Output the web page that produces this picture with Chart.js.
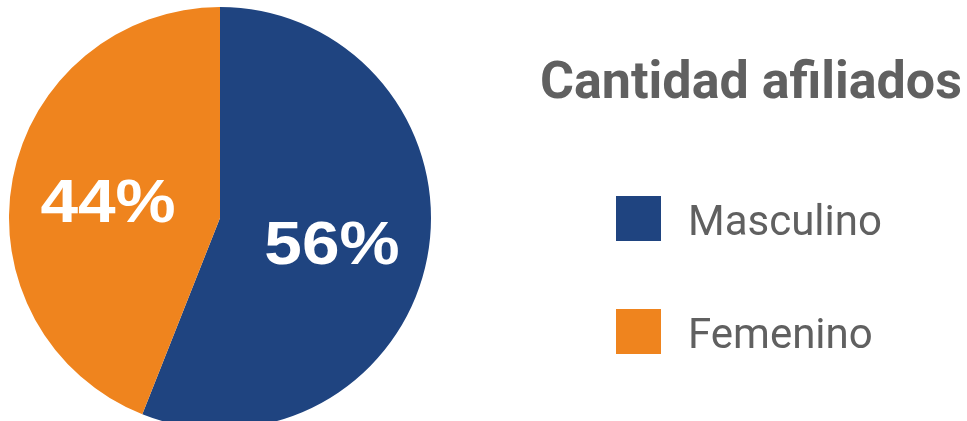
<!DOCTYPE html>
<html lang="es">
<head>
    <meta charset="UTF-8">
    <title>Cantidad afiliados</title>
    <script src="https://cdn.jsdelivr.net/npm/chart.js"></script>
    <style>
        html, body { margin: 0; padding: 0; background: #fff; overflow: hidden; }
        .chart-container { position: relative; width: 967px; height: 429px; }
    </style>
</head>
<body>
    <div class="chart-container">
        <canvas id="pie"></canvas>
    </div>
    <script>
        // data
        const chartTitle = 'Cantidad afiliados';
        const categories = ['Masculino', 'Femenino'];
        const percents = [56, 44];
        const colors = ['#1f4480', '#ef841e'];

        const textGray = '#606060';

        // percentage labels inside the slices
        const sliceLabels = {
            id: 'sliceLabels',
            afterDatasetsDraw(chart) {
                const ctx = chart.ctx;
                const meta = chart.getDatasetMeta(0);
                ctx.save();
                ctx.fillStyle = '#ffffff';
                ctx.font = 'bold 62px "Liberation Sans", Arial, sans-serif';
                ctx.textAlign = 'center';
                ctx.textBaseline = 'alphabetic';
                meta.data.forEach(function(arc, i) {
                    const mid = (arc.startAngle + arc.endAngle) / 2;
                    const r = arc.outerRadius * 0.54;
                    const x = arc.x + Math.cos(mid) * r;
                    const y = arc.y + Math.sin(mid) * r;
                    // the original text is slightly wider than the font
                    ctx.save();
                    ctx.translate(x, y + 25);
                    ctx.scale(1.09, 1);
                    ctx.fillText(percents[i] + '%', 0, 0);
                    ctx.restore();
                });
                ctx.restore();
            }
        };

        // title + legend on the right side
        const sideLegend = {
            id: 'sideLegend',
            afterDraw(chart) {
                const ctx = chart.ctx;
                const bg = chart.data.datasets[0].backgroundColor;
                ctx.save();
                ctx.fillStyle = textGray;
                ctx.textAlign = 'left';
                ctx.textBaseline = 'alphabetic';
                ctx.font = 'bold 52px Roboto, sans-serif';
                ctx.fillText(chartTitle, 540, 98);

                ctx.font = '42px Roboto, sans-serif';
                chart.data.labels.forEach(function(label, i) {
                    const top = 196 + i * 113;
                    ctx.fillStyle = bg[i];
                    ctx.fillRect(616, top, 45, 45);
                    ctx.fillStyle = textGray;
                    ctx.fillText(label, 688, top + 39);
                });
                ctx.restore();
            }
        };

        new Chart(document.getElementById('pie'), {
            type: 'pie',
            data: {
                labels: categories,
                datasets: [{
                    data: percents,
                    backgroundColor: colors,
                    borderWidth: 0
                }]
            },
            options: {
                responsive: true,
                maintainAspectRatio: false,
                animation: false,
                layout: {
                    padding: { left: 9, right: 536, top: 7, bottom: 0 }
                },
                plugins: {
                    legend: { display: false },
                    tooltip: { enabled: false }
                }
            },
            plugins: [sliceLabels, sideLegend]
        });
    </script>
</body>
</html>
